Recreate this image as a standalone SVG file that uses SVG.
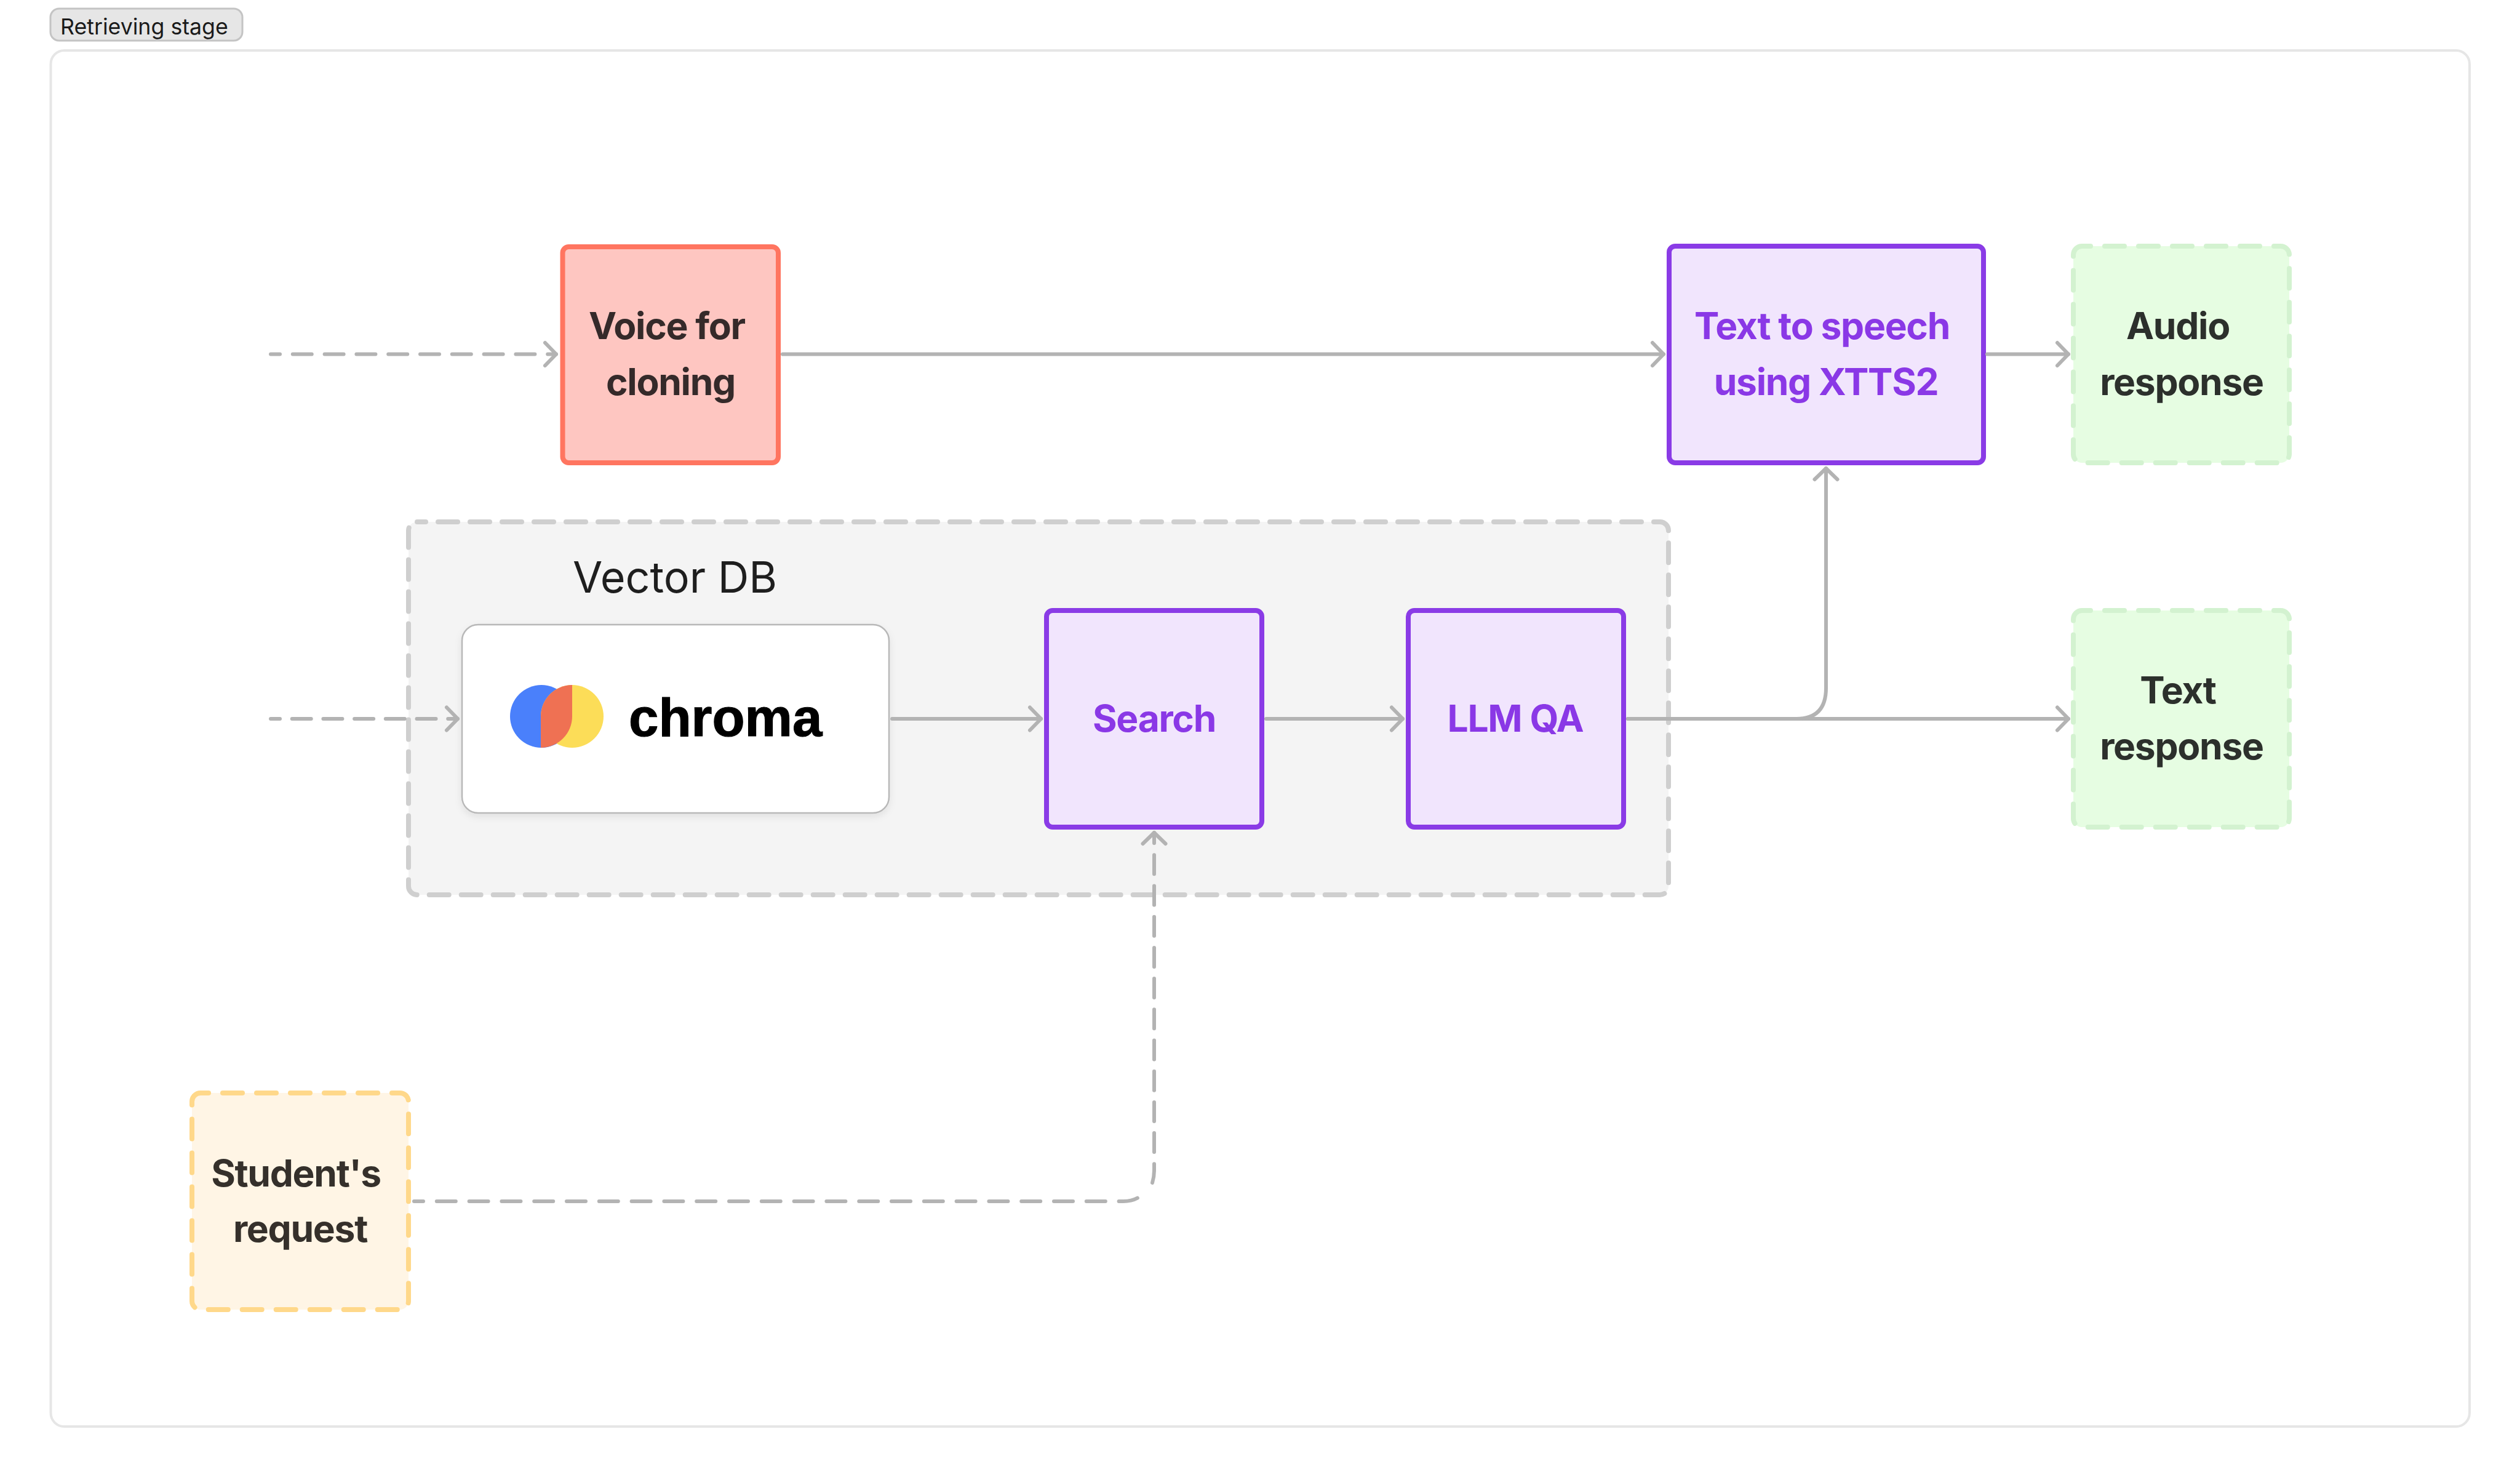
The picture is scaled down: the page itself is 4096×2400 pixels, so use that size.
<svg xmlns="http://www.w3.org/2000/svg" width="4096" height="2400" viewBox="0 0 4096 2400">
<style>
text{font-family:"Inter","Liberation Sans",sans-serif}
.box{stroke-width:8}
.lbl{font-size:60.5px;font-weight:700;text-anchor:middle;letter-spacing:-1.3px}
.purple rect{fill:#f1e5fd;stroke:#8a3be6}
.purple text{fill:#8a38e6}
.green rect{fill:#e6fde2;stroke:#d3f2d0;stroke-dasharray:32 23;stroke-dashoffset:18;stroke-linecap:round}
.green text{fill:#2c302c}
.con{fill:none;stroke:#b3b3b3;stroke-width:6;stroke-linecap:round;stroke-linejoin:round}
</style>
<defs>
<marker id="arr" markerUnits="userSpaceOnUse" viewBox="-30 -30 40 60" refX="0" refY="0" markerWidth="40" markerHeight="60" orient="auto" overflow="visible">
<path d="M-18-18.5L0 0L-18 18.5" fill="none" stroke="#b3b3b3" stroke-width="6" stroke-linecap="round" stroke-linejoin="round"/>
</marker>
<filter id="sh" x="-5%" y="-5%" width="110%" height="115%"><feDropShadow dx="0" dy="5" stdDeviation="6" flood-color="#000" flood-opacity=".08"/></filter>
</defs>
<rect width="4096" height="2400" fill="#fff"/>
<g id="frame">
<rect x="82.5" y="82" width="3931.5" height="2236" rx="22" fill="#fff" stroke="#e6e6e6" stroke-width="4"/>
</g>
<g id="stage-badge">
<rect x="82" y="14" width="312" height="52" rx="14" fill="#e6e6e6" stroke="#c4c4c4" stroke-width="3"/>
<text x="98" y="56" font-size="35.7" fill="#1a1a1a">Retrieving stage</text>
</g>
<g id="vector-db">
<rect x="664" y="848" width="2048" height="606" rx="14" fill="#f4f4f4" stroke="#cfcfcf" stroke-width="8" stroke-dasharray="32 20" stroke-dashoffset="18" stroke-linecap="round"/>
<text x="1097" y="963" font-size="70" fill="#1e1e1e" text-anchor="middle">Vector DB</text>
</g>
<g id="chroma">
<rect x="751" y="1015" width="694" height="306" rx="26" fill="#fff" stroke="#b8b8b8" stroke-width="2.5" filter="url(#sh)"/>
<circle cx="880" cy="1164" r="51" fill="#4a80fb"/>
<circle cx="930" cy="1164" r="51" fill="#fcdd58"/>
<path d="M930 1113A51 51 0 0 0 879 1164V1215A51 51 0 0 0 930 1164Z" fill="#ef7153"/>
<text x="1022" y="1196" font-size="87" font-weight="700" fill="#000" stroke="#000" stroke-width="1.2" style="font-family:'Liberation Sans',sans-serif">chroma</text>
</g>
<g id="voice">
<rect class="box" x="914.5" y="401" width="350.5" height="351" rx="10" fill="#fec6c1" stroke="#ff7560"/>
<text class="lbl" fill="#352a2a"><tspan x="1084" y="551">Voice for</tspan><tspan x="1090" y="641.5">cloning</tspan></text>
</g>
<g id="search" class="purple">
<rect class="box" x="1701" y="992" width="350" height="352" rx="10"/>
<text class="lbl" x="1876" y="1189">Search</text>
</g>
<g id="llm" class="purple">
<rect class="box" x="2289" y="992" width="350" height="352" rx="10"/>
<text class="lbl" x="2463" y="1189">LLM QA</text>
</g>
<g id="tts" class="purple">
<rect class="box" x="2713" y="400" width="511" height="352" rx="10"/>
<text class="lbl"><tspan x="2961.5" y="551">Text to speech</tspan><tspan x="2968" y="641.5">using XTTS2</tspan></text>
</g>
<g id="audio" class="green">
<rect class="box" x="3370" y="400" width="351" height="352" rx="14"/>
<text class="lbl"><tspan x="3540" y="551">Audio</tspan><tspan x="3546" y="641.5">response</tspan></text>
</g>
<g id="text-response" class="green">
<rect class="box" x="3370" y="992" width="351" height="352" rx="14"/>
<text class="lbl"><tspan x="3540" y="1143">Text</tspan><tspan x="3546" y="1233.5">response</tspan></text>
</g>
<g id="student">
<rect class="box" x="312" y="1776" width="352" height="352" rx="14" fill="#fff5e5" stroke="#ffd88a" stroke-dasharray="32 23" stroke-dashoffset="19" stroke-linecap="round"/>
<text class="lbl" fill="#35302b"><tspan x="481" y="1928">Student's</tspan><tspan x="488" y="2017.5">request</tspan></text>
</g>
<g id="connectors" class="con">
<path stroke-dasharray="31 20.8" stroke-dashoffset="16" d="M440 575.5H904" marker-end="url(#arr)"/>
<path stroke-dasharray="31 19.7" stroke-dashoffset="16" d="M440 1168H744" marker-end="url(#arr)"/>
<path d="M1272 575.5H2704" marker-end="url(#arr)"/>
<path d="M3230 575.5H3362" marker-end="url(#arr)"/>
<path d="M1450 1168H1692" marker-end="url(#arr)"/>
<path d="M2058 1168H2280" marker-end="url(#arr)"/>
<path d="M2646 1168H3362" marker-end="url(#arr)"/>
<path d="M2646 1168H2920Q2968 1168 2968 1118V761" marker-end="url(#arr)"/>
<path stroke-dasharray="31 21.8" stroke-dashoffset="16" d="M673 1952H1826Q1840 1952 1850 1946"/>
<path stroke-dasharray="31 19.2" d="M1873 1922Q1876 1912 1876 1902V1353" marker-end="url(#arr)"/>
</g>
</svg>
